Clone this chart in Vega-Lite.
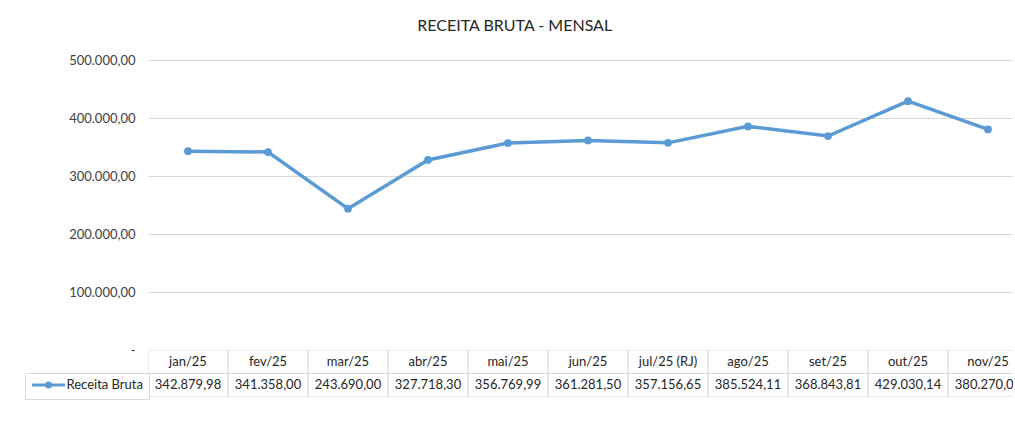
{
  "$schema": "https://vega.github.io/schema/vega-lite/v6.json",
  "background": "white",
  "padding": {"left": 24, "top": 18, "right": 0, "bottom": 0},
  "config": {
    "locale": {"number": {"decimal": ",", "thousands": ".", "grouping": [3], "currency": ["R$ ", ""]}},
    "view": {"stroke": null},
    "font": "Lato"
  },
  "title": {"text": "RECEITA BRUTA - MENSAL", "fontSize": 16, "fontWeight": "normal", "color": "#262626", "anchor": "middle", "offset": 20, "dx": -4, "font": "Lato"},
  "datasets": {
    "receita": [
      {"mes": "jan/25", "receita": 342879.98},
      {"mes": "fev/25", "receita": 341358.00},
      {"mes": "mar/25", "receita": 243690.00},
      {"mes": "abr/25", "receita": 327718.30},
      {"mes": "mai/25", "receita": 356769.99},
      {"mes": "jun/25", "receita": 361281.50},
      {"mes": "jul/25 (RJ)", "receita": 357156.65},
      {"mes": "ago/25", "receita": 385524.11},
      {"mes": "set/25", "receita": 368843.81},
      {"mes": "out/25", "receita": 429030.14},
      {"mes": "nov/25", "receita": 380270.00}
    ]
  },
  "spacing": 0,
  "bounds": "flush",
  "vconcat": [
    {
      "width": 865,
      "height": 290,
      "data": {"name": "receita"},
      "encoding": {
        "x": {"field": "mes", "type": "nominal", "sort": null, "scale": {"range": [0, 880], "paddingInner": 0, "paddingOuter": 0}, "axis": null},
        "y": {
          "field": "receita", "type": "quantitative",
          "scale": {"domain": [0, 500000], "nice": false},
          "axis": {
            "values": [0, 100000, 200000, 300000, 400000, 500000],
            "format": ",.2f",
            "labelExpr": "datum.value == 0 ? '-\u00a0\u00a0\u00a0\u00a0' : datum.label",
            "grid": true, "gridColor": "#d9d9d9", "gridWidth": 1,
            "domain": false, "ticks": false, "labelPadding": 13,
            "labelFontSize": 13, "labelColor": "#404040", "labelFont": "Lato",
            "title": null
          }
        },
        "color": {
          "datum": "Receita Bruta", "type": "nominal",
          "scale": {"range": ["#5b9bd5"]},
          "legend": {
            "orient": "none", "legendX": -123, "legendY": 313, "title": null,
            "strokeColor": "#d9d9d9", "fillColor": "white", "padding": 5.5, "cornerRadius": 0,
            "symbolType": "M-3.3,0H3.3M0.42,0A0.42,0.42,0,1,1,-0.42,0A0.42,0.42,0,1,1,0.42,0Z",
            "symbolSize": 100, "symbolStrokeWidth": 3, "symbolOffset": 11.5,
            "labelFontSize": 13, "labelColor": "#262626", "labelFont": "Lato", "labelOffset": 11.5,
            "encode": {"symbols": {"update": {"fill": {"value": "#5b9bd5"}, "stroke": {"value": "#5b9bd5"}, "strokeWidth": {"value": 3}, "opacity": {"value": 1}}}}
          }
        }
      },
      "layer": [
        {"mark": {"type": "line", "strokeWidth": 3.5}},
        {"mark": {"type": "point", "filled": true, "size": 60, "opacity": 1}}
      ]
    },
    {
      "width": 865,
      "height": 47,
      "data": {"name": "receita"},
      "encoding": {
        "x": {"field": "mes", "type": "nominal", "sort": null, "scale": {"range": [0, 880], "paddingInner": 0, "paddingOuter": 0}, "axis": null}
      },
      "layer": [
        {
          "mark": {"type": "rect", "fill": "white", "stroke": "#d9d9d9", "strokeWidth": 1, "clip": true},
          "encoding": {"y": {"datum": "hdr", "type": "nominal", "scale": {"domain": ["hdr", "val"], "paddingInner": 0, "paddingOuter": 0}, "axis": null}}
        },
        {
          "mark": {"type": "rect", "fill": "white", "stroke": "#d9d9d9", "strokeWidth": 1, "clip": true},
          "encoding": {"y": {"datum": "val", "type": "nominal", "scale": {"domain": ["hdr", "val"], "paddingInner": 0, "paddingOuter": 0}, "axis": null}}
        },
        {
          "mark": {"type": "text", "fontSize": 13, "color": "#262626", "font": "Lato", "clip": true},
          "encoding": {
            "y": {"datum": "hdr", "type": "nominal", "scale": {"domain": ["hdr", "val"], "paddingInner": 0, "paddingOuter": 0}, "axis": null},
            "text": {"field": "mes", "type": "nominal"}
          }
        },
        {
          "mark": {"type": "text", "fontSize": 13, "color": "#262626", "font": "Lato", "clip": true},
          "encoding": {
            "y": {"datum": "val", "type": "nominal", "scale": {"domain": ["hdr", "val"], "paddingInner": 0, "paddingOuter": 0}, "axis": null},
            "text": {"field": "receita", "type": "quantitative", "format": ",.2f"}
          }
        }
      ]
    }
  ]
}
